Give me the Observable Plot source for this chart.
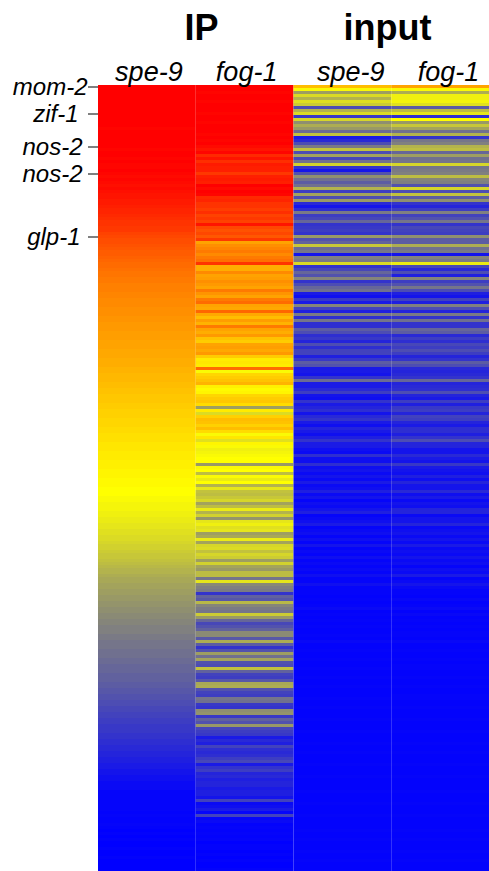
<!DOCTYPE html>
<html>
<head>
<meta charset="utf-8">
<script src="https://cdn.jsdelivr.net/npm/d3@7"></script>
<script src="https://cdn.jsdelivr.net/npm/@observablehq/plot@0.6"></script>
<style>html,body{margin:0;padding:0;background:#fff}svg{display:block}</style>
</head>
<body>
<div id="chart"></div>
<script>
const ipSpe9 = [
10,10,10,10,10,10,10,10,10,10,
10,10,10,10,9.9,10,10,10,10,10,
10,9.9,10,10,9.9,10,9.9,9.9,10,9.9,
9.8,9.9,9.8,9.7,9.8,9.7,9.6,9.6,9.5,9.5,
9.4,9.3,9.3,9.2,9.1,9.0,9.0,8.9,8.9,8.7,
8.6,8.5,8.5,8.4,8.3,8.2,8.2,8.1,8.0,7.9,
7.9,7.8,7.7,7.7,7.6,7.6,7.5,7.5,7.5,7.4,
7.4,7.3,7.3,7.3,7.2,7.2,7.2,7.1,7.1,7.0,
7.0,7.0,6.9,6.9,6.9,6.8,6.8,6.8,6.7,6.7,
6.7,6.6,6.6,6.6,6.5,6.5,6.4,6.4,6.4,6.3,
6.3,6.2,6.2,6.1,6.1,6.1,6.0,6.0,5.9,5.9,
5.9,5.8,5.8,5.8,5.7,5.7,5.6,5.6,5.6,5.5,
5.5,5.5,5.4,5.4,5.4,5.3,5.3,5.3,5.2,5.2,
5.2,5.1,5.1,5.1,5.0,5.0,5.0,4.9,4.9,4.8,
4.8,4.8,4.7,4.7,4.6,4.6,4.5,4.5,4.4,4.4,
4.3,4.3,4.2,4.1,4.1,4.0,3.9,3.9,3.8,3.7,
3.6,3.5,3.5,3.4,3.3,3.3,3.2,3.2,3.1,3.1,
3.0,3.0,2.9,2.9,2.8,2.8,2.7,2.7,2.6,2.6,
2.5,2.5,2.5,2.4,2.4,2.3,2.3,2.3,2.2,2.2,
2.2,2.1,2.1,2.0,2.0,2.0,1.9,1.9,1.9,1.8,
1.8,1.7,1.7,1.6,1.6,1.5,1.5,1.4,1.4,1.3,
1.3,1.2,1.2,1.1,1.1,1.1,1.0,1.0,0.9,0.9,
0.8,0.8,0.7,0.7,0.6,0.6,0.5,0.5,0.4,0.4,
0.3,0.3,0.2,0.2,0.2,0.1,0.1,0.1,0.1,0.1,
0.1,0.1,0.05,0.1,0.05,0.05,0.1,0.05,0,0.05,
0,0.05,0,0,0.05,0,0,0.05,0,0,
0,0
];
const ipFog1 = [
10,10,9.9,10,10,9.9,10,10,10,9.9,
10,10,9.9,10,10,10,9.9,10,9.9,10,
9.8,9.6,9.9,9.2,9.6,9.1,9.5,9.4,9.4,8.9,
9.4,9.5,9.4,10,9.8,10,9.9,9.2,9.3,9.0,
9.0,8.8,9.1,8.7,8.9,8.7,9.6,8.6,8.4,8.6,
8.3,8.9,6.8,7.2,7.4,7.6,7.3,7.6,7.8,9.0,
6.6,6.6,7.3,6.8,6.9,7.2,7.0,6.8,7.6,7.1,
6.8,7.6,7.9,6.8,6.7,8.0,6.7,6.3,6.9,6.5,
7.6,6.8,6.6,7.0,6.2,6.0,6.8,6.9,6.7,7.0,
6.0,5.4,5.5,5.4,7.9,4.9,5.8,6.0,6.2,6.5,
5.3,5.1,5.2,5.8,6.0,6.1,5.7,3.1,5.4,4.3,
5.9,6.3,6.2,5.9,6.3,5.7,4.9,5.5,4.4,5.2,
4.9,4.7,4.8,4.9,5.0,5.0,3.0,4.9,5.0,3.7,
4.9,4.6,5.0,3.5,4.5,3.8,3.7,3.9,4.2,3.2,
3.7,4.6,3.5,4.1,2.9,4.5,4.7,4.4,4.5,3.1,
3.3,4.6,3.2,4.2,4.3,3.8,4.2,4.0,3.1,4.1,
3.2,3.0,3.7,3.7,2.3,4.5,2.7,2.5,2.4,1.0,
1.9,1.7,3.6,2.6,2.4,2.3,4.0,3.0,2.0,1.4,
1.6,1.9,2.7,2.7,1.7,3.4,1.8,1.0,1.6,3.1,
2.2,3.2,1.6,1.5,3.8,1.9,1.3,1.2,1.7,3.3,
3.4,1.6,1.3,1.2,2.3,2.2,1.1,1.0,2.8,2.9,
1.1,1.9,1.6,3.0,1.4,1.2,1.1,0.5,0.8,0.6,
1.3,0.9,0.8,0.9,1.2,1.4,0.5,1.0,1.2,0.7,
0.8,0.6,0.7,0.7,0.5,0.6,0.6,0.4,1.3,0.2,
0.3,0.5,0.1,1.3,0.1,0.2,0.05,0.1,0.05,0.1,
0.05,0.1,0,0.05,0.05,0,0.05,0,0.05,0,
0,0.05
];
const inputSpe9 = [
6.3,4.9,3.1,4.3,3.5,4.4,4.0,1.5,3.5,4.3,
1.1,4.2,2.8,3.4,3.0,2.1,3.8,0.5,0.8,1.5,
2.4,3.8,1.5,3.2,1.4,2.2,4.1,1.0,0.4,1.6,
2.8,2.2,1.8,2.2,3.5,1.2,3.2,1.5,3.0,0.8,
0.4,0.9,2.4,1.2,1.4,2.0,1.0,1.1,1.2,1.0,
3.0,1.6,1.9,3.9,2.1,2.3,0.4,2.5,2.4,4.3,
1.0,1.4,2.0,1.6,2.6,1.0,1.5,2.0,2.2,0.5,
0.3,1.1,0.5,2.6,1.3,0.6,2.4,0.9,2.3,0.9,
0.9,1.8,1.5,0.9,1.1,0.7,1.5,0.9,1.3,1.3,
0.6,1.1,1.8,1.6,0.5,0.5,0.4,1.0,2.1,0.5,
0.5,0.8,1.2,0.4,0.3,1.0,0.5,0.7,0.9,0.4,
0.8,1.0,0.5,0.3,0.7,0.5,0.3,0.6,1.0,0.5,
0.5,0.3,0.2,0.9,0.3,0.3,0.9,0.3,0.4,0.2,
0.4,0.2,0.5,0.2,0.3,0.6,0.2,0.4,0.1,0.3,
0.2,0.4,0.6,0.1,0.2,0.3,0.5,0.1,0.2,0.3,
0.1,0.3,0.1,0.4,0.1,0.2,0.1,0.3,0.1,0.2,
0.1,0.2,0.1,0.3,0.1,0.1,0.3,0.1,0.1,0.1,
0.05,0.1,0.05,0.1,0.2,0.05,0.1,0.05,0.1,0.05,
0.1,0.05,0.05,0.1,0.05,0.15,0.05,0.05,0.1,0.05,
0.05,0.1,0.05,0.05,0.1,0.05,0.05,0.1,0.05,0.05,
0.1,0.05,0.05,0.05,0.1,0.05,0.05,0.1,0.05,0.05,
0.05,0.1,0.05,0.05,0.05,0.1,0.05,0.05,0.05,0.1,
0.05,0.05,0.1,0.05,0.05,0.05,0.1,0.05,0.05,0.05,
0.1,0.05,0.05,0.05,0.05,0.1,0.05,0.05,0.05,0.1,
0.05,0.05,0.05,0.1,0.05,0.05,0.05,0.05,0.1,0.05,
0.05,0.1,0.05,0.05,0.05,0.1,0.05,0.05,0.1,0.05,
0.05,0.05
];
const inputFog1 = [
6.8,4.9,3.4,4.7,4.7,4.8,4.4,1.8,3.7,4.5,
0.9,5.0,3.0,3.9,3.2,2.2,3.5,1.0,2.3,2.5,
3.5,3.7,2.0,3.1,2.2,2.3,4.2,2.3,2.4,2.5,
3.7,2.6,2.5,1.6,4.2,1.5,3.8,1.8,2.8,1.0,
0.7,1.2,2.5,1.3,1.6,2.3,1.0,1.4,1.3,1.2,
2.8,1.8,1.8,3.4,2.2,2.4,0.4,2.6,2.4,4.6,
1.4,0.8,1.5,0.6,2.6,1.2,1.6,2.3,1.5,0.6,
0.4,1.3,0.6,2.5,1.5,0.7,2.4,1.0,2.2,1.0,
1.0,2.0,1.8,0.8,1.2,0.9,1.4,1.2,1.5,1.2,
0.7,1.0,1.8,1.5,0.8,0.7,0.8,1.0,2.0,0.7,
0.8,0.9,1.5,0.7,0.5,1.2,0.6,1.1,1.2,0.7,
1.3,1.2,0.7,0.5,0.9,0.9,0.6,1.0,1.5,0.7,
0.7,0.4,0.4,0.8,0.5,0.4,1.1,0.5,0.4,0.3,
0.6,0.3,0.7,0.4,0.4,0.8,0.3,0.5,0.2,0.4,
0.3,0.7,0.7,0.2,0.4,0.4,0.7,0.2,0.3,0.4,
0.2,0.4,0.2,0.5,0.2,0.3,0.2,0.4,0.2,0.3,
0.1,0.3,0.2,0.5,0.1,0.2,0.4,0.2,0.1,0.1,
0.05,0.15,0.05,0.1,0.2,0.05,0.15,0.05,0.1,0.05,
0.1,0.05,0.1,0.1,0.05,0.15,0.05,0.05,0.1,0.05,
0.05,0.1,0.05,0.1,0.1,0.05,0.05,0.1,0.05,0.05,
0.1,0.05,0.05,0.1,0.1,0.05,0.05,0.1,0.05,0.05,
0.05,0.1,0.05,0.05,0.05,0.1,0.05,0.05,0.05,0.1,
0.05,0.05,0.1,0.05,0.05,0.05,0.1,0.05,0.05,0.05,
0.1,0.05,0.05,0.05,0.05,0.1,0.05,0.05,0.05,0.1,
0.05,0.05,0.05,0.1,0.05,0.05,0.05,0.05,0.1,0.05,
0.05,0.1,0.05,0.05,0.05,0.1,0.05,0.05,0.1,0.05,
0.05,0.05
];
const columns = ["IP spe-9", "IP fog-1", "input spe-9", "input fog-1"];
const series = [ipSpe9, ipFog1, inputSpe9, inputFog1];
const geneNames = ["mom-2", "zif-1", "nos-2", "nos-2", "glp-1"];
const geneRows = [0, 9, 20, 29, 50];
const groupNames = ["IP", "input"];

const rows = d3.range(ipSpe9.length);
const cells = series.flatMap((values, c) =>
  values.map((value, row) => ({column: columns[c], row, value})));
const genes = geneNames.map((name, i) => ({name, row: geneRows[i]}));

const font = "'Liberation Sans', Arial, sans-serif";
const geneOffsets = [-11, -20, -16, -16, -18];
const groupOffsets = [103, 289];

const chart = Plot.plot({
  width: 489,
  height: 871,
  marginTop: 85,
  marginLeft: 98,
  marginRight: 0,
  marginBottom: 0,
  style: {fontFamily: font, background: "#fff", color: "#000", overflow: "visible"},
  x: {domain: columns, padding: 0, round: false, label: null},
  y: {domain: rows, padding: 0, round: false, label: null},
  color: {type: "linear", domain: [0, 5, 10], range: ["#0000ff", "#ffff00", "#ff0000"], interpolate: "rgb"},
  marks: [
    Plot.cell(cells, {x: "column", y: "row", fill: "value"}),
    Plot.axisY({ticks: geneRows, tickSize: 10, tickFormat: () => "", label: null, stroke: "#000"}),
    Plot.axisX({anchor: "top", ticks: columns.slice(0, 2), tickSize: 0, tickPadding: 5, dx: 1.5, label: null,
      fontSize: 27, fontStyle: "italic", fill: "#000", tickFormat: d => d.split(" ")[1]}),
    Plot.axisX({anchor: "top", ticks: columns.slice(2), tickSize: 0, tickPadding: 5, dx: 7.8, label: null,
      fontSize: 27, fontStyle: "italic", fill: "#000", tickFormat: d => d.split(" ")[1]}),
    ...genes.map((g, i) => Plot.text([g], {
      y: "row", text: "name", frameAnchor: "left", textAnchor: "end", dx: geneOffsets[i],
      fontSize: 24, fontStyle: "italic", fill: "#000"
    })),
    ...groupNames.map((name, i) => Plot.text([name], {
      text: d => d, frameAnchor: "top-left", textAnchor: "middle", lineAnchor: "bottom",
      dx: groupOffsets[i], dy: -46, fontSize: 36, fontWeight: "bold", fill: "#000"
    }))
  ]
});
document.getElementById("chart").appendChild(chart);
</script>
</body>
</html>
